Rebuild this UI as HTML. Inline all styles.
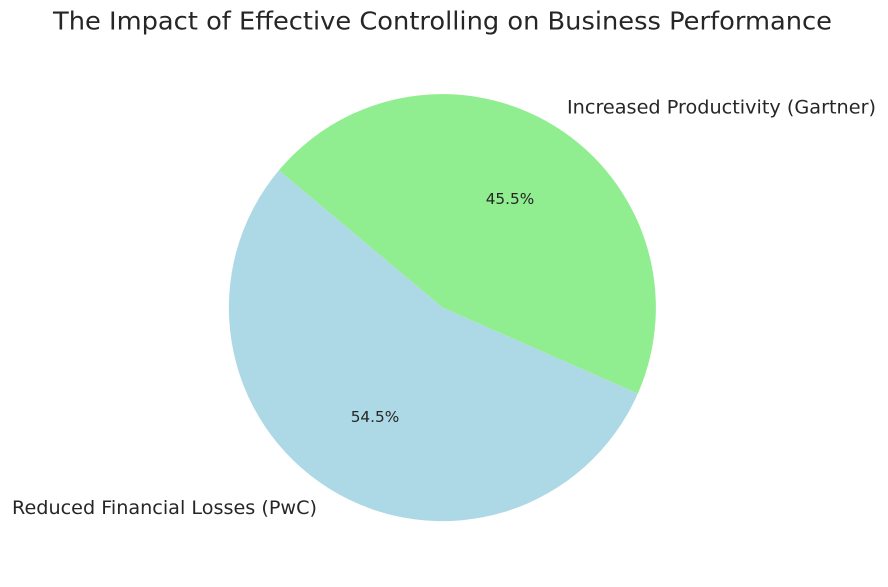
<!DOCTYPE html>
<html>
<head>
<meta charset="utf-8">
<style>
  html, body { margin: 0; padding: 0; background: #ffffff; }
  svg { display: block; }
  text { font-family: "DejaVu Sans", "Liberation Sans", sans-serif; fill: #262626; }
</style>
</head>
<body>
<svg width="888" height="587" viewBox="0 0 888 587" xmlns="http://www.w3.org/2000/svg">
  <rect width="888" height="587" fill="#ffffff"/>
  <text x="442.5" y="29.5" font-size="24.5" text-anchor="middle" textLength="779" lengthAdjust="spacingAndGlyphs">The Impact of Effective Controlling on Business Performance</text>

  <!-- Blue wedge: 140deg to 336.2deg CCW -->
  <path d="M442.5,307.5 L278.9,170.3 A213.5,213.5 0 1 0 637.8,393.6 Z" fill="#ADD8E6"/>
  <!-- Green wedge -->
  <path d="M442.5,307.5 L637.8,393.6 A213.5,213.5 0 0 0 278.9,170.3 Z" fill="#90EE90"/>

  <text x="567" y="113.3" font-size="18.8" text-anchor="start" textLength="309" lengthAdjust="spacingAndGlyphs">Increased Productivity (Gartner)</text>
  <text x="317" y="514" font-size="18.8" text-anchor="end" textLength="305" lengthAdjust="spacingAndGlyphs">Reduced Financial Losses (PwC)</text>

  <text x="510" y="204" font-size="15.3" text-anchor="middle">45.5%</text>
  <text x="375" y="422" font-size="15.3" text-anchor="middle">54.5%</text>
</svg>
</body>
</html>
